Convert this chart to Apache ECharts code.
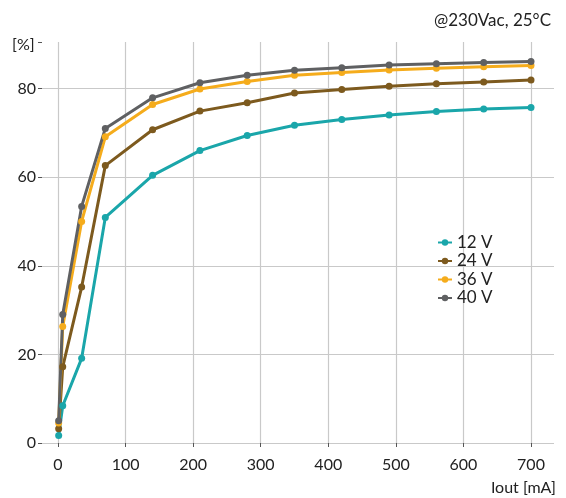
<!DOCTYPE html>
<html>
<head>
<meta charset="utf-8">
<script src="https://cdn.jsdelivr.net/npm/echarts@6/dist/echarts.min.js"></script>
<style>html,body{margin:0;padding:0;background:#fff}#c{width:566px;height:498px}</style>
</head>
<body>
<div id="c"></div>
<script>
const currentMA = [1, 7, 35, 70, 140, 210, 280, 350, 420, 490, 560, 630, 700];
const eff12V = [1.7, 8.4, 19.1, 50.9, 60.4, 66.0, 69.4, 71.7, 73.0, 74.0, 74.8, 75.4, 75.7];
const eff24V = [3.2, 17.2, 35.2, 62.6, 70.7, 74.9, 76.8, 79.0, 79.8, 80.5, 81.1, 81.5, 81.9];
const eff36V = [4.5, 26.3, 50.0, 69.1, 76.4, 79.9, 81.6, 83.0, 83.6, 84.2, 84.6, 84.9, 85.2];
const eff40V = [5.0, 29.0, 53.4, 71.0, 77.9, 81.3, 83.0, 84.1, 84.7, 85.3, 85.6, 85.9, 86.1];
const seriesNames = ['12 V', '24 V', '36 V', '40 V'];
const seriesColors = ['#1aa6aa', '#7d5a1e', '#f5ac1c', '#5f6062'];
const seriesValues = [eff12V, eff24V, eff36V, eff40V];

const FONT = 'Lato';
const chart = echarts.init(document.getElementById('c'), null, {renderer: 'canvas'});
const gridColor = '#c9c9c9';
const txt = '#222';

chart.setOption({
  animation: false,
  textStyle: {fontFamily: FONT},
  title: {
    text: '@230Vac, 25°C', right: 10, top: 7,
    textStyle: {fontFamily: FONT, fontSize: 17, fontWeight: 'normal', color: txt}
  },
  graphic: [
    {type: 'text', left: 12, top: 37, style: {text: '[%]', font: '16px ' + FONT, fill: txt}},
    {type: 'text', right: 10, top: 480, style: {text: 'Iout [mA]', font: '16px ' + FONT, fill: txt}}
  ],
  legend: {
    orient: 'vertical', left: 437, top: 234, padding: 0,
    itemWidth: 14, itemHeight: 8, itemGap: 1.5,
    textStyle: {fontFamily: FONT, fontSize: 17, color: txt},
    data: seriesNames
  },
  grid: [
    {left: 42, right: 12, top: 42, bottom: 55},
    {left: 58, right: 35, top: 42, bottom: 55}
  ],
  xAxis: [
    {gridIndex: 0, type: 'value', min: 0, max: 1, show: false},
    {gridIndex: 1, type: 'value', min: 0, max: 700, interval: 100,
     axisLine: {show: false},
     axisTick: {show: true, length: 4, lineStyle: {color: '#555'}},
     axisLabel: {fontFamily: FONT, fontSize: 16, color: txt, margin: 14},
     splitLine: {show: true, lineStyle: {color: gridColor, width: 1.2}}}
  ],
  yAxis: [
    {gridIndex: 0, type: 'value', min: 0, max: 90.5, interval: 20,
     axisLine: {show: false},
     axisTick: {show: true, length: 4, lineStyle: {color: '#555'}},
     axisLabel: {fontFamily: FONT, fontSize: 16, color: txt, margin: 6,
       formatter: v => (v % 20 === 0 ? String(v) : '')},
     splitLine: {show: true, lineStyle: {color: [gridColor, gridColor, gridColor, gridColor, gridColor, 'rgba(0,0,0,0)'], width: 1.2}}},
    {gridIndex: 1, type: 'value', min: 0, max: 90.5, show: false}
  ],
  series: seriesNames.map((name, i) => ({
    name: name, type: 'line', xAxisIndex: 1, yAxisIndex: 1,
    data: currentMA.map((x, j) => [x, seriesValues[i][j]]),
    color: seriesColors[i],
    lineStyle: {width: 3, color: seriesColors[i]},
    itemStyle: {color: seriesColors[i]},
    symbol: 'circle', symbolSize: 7, showSymbol: true
  }))
});
</script>
</body>
</html>
